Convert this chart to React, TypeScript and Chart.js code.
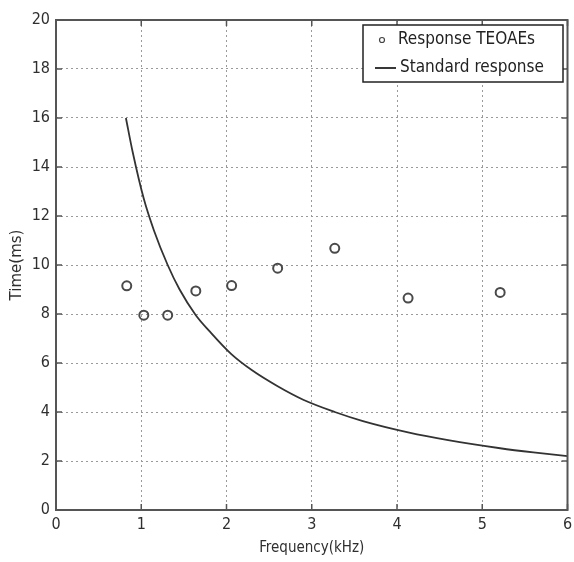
import { useEffect, useRef } from 'react';
import { Chart, registerables } from 'chart.js';

Chart.register(...registerables);

// Data
const seriesLabels = ['Response TEOAEs', 'Standard response'];
const teoaeFreq = [0.83, 1.03, 1.31, 1.64, 2.06, 2.6, 3.27, 4.13, 5.21];
const teoaeTime = [9.15, 7.95, 7.95, 8.94, 9.16, 9.87, 10.68, 8.65, 8.88];
const stdFreq = [0.82, 0.9, 1.03, 1.15, 1.31, 1.45, 1.64, 1.8, 2.06, 2.3, 2.6, 2.9, 3.27, 3.6, 4.13, 4.6, 5.21, 5.6, 6.0];
const stdTime = [16.0, 14.6, 12.7, 11.4, 10.0, 9.0, 7.95, 7.3, 6.35, 5.7, 5.05, 4.5, 4.0, 3.63, 3.17, 2.85, 2.52, 2.35, 2.2];
const xTicks = [0, 1, 2, 3, 4, 5, 6];
const yTicks = [0, 2, 4, 6, 8, 10, 12, 14, 16, 18, 20];
const xTitle = 'Frequency(kHz)';
const yTitle = 'Time(ms)';

const FONT_H = "'DejaVu Sans Condensed', 'Liberation Sans', sans-serif";
const FONT_V = "'DejaVu Sans', 'Liberation Sans', sans-serif";
const AXIS_COLOR = '#555';
const TEXT_COLOR = '#2f2f2f';

const framePlugin = {
  id: 'frame',
  afterDatasetsDraw(chart: any) {
    const { ctx, chartArea: a, scales } = chart;
    ctx.save();
    // inward ticks
    ctx.strokeStyle = AXIS_COLOR;
    ctx.lineWidth = 1.5;
    const tl = 6;
    xTicks.forEach((v) => {
      const x = scales.x.getPixelForValue(v);
      ctx.beginPath();
      ctx.moveTo(x, a.bottom);
      ctx.lineTo(x, a.bottom - tl);
      ctx.moveTo(x, a.top);
      ctx.lineTo(x, a.top + tl);
      ctx.stroke();
    });
    yTicks.forEach((v) => {
      const y = scales.y.getPixelForValue(v);
      ctx.beginPath();
      ctx.moveTo(a.left, y);
      ctx.lineTo(a.left + tl, y);
      ctx.moveTo(a.right, y);
      ctx.lineTo(a.right - tl, y);
      ctx.stroke();
    });
    // box
    ctx.lineWidth = 2;
    ctx.strokeRect(a.left, a.top, a.right - a.left, a.bottom - a.top);

    // legend
    const bx = a.left + 307;
    const by = a.top + 5;
    const bw = 200;
    const bh = 57;
    ctx.fillStyle = '#fff';
    ctx.fillRect(bx, by, bw, bh);
    ctx.strokeStyle = '#222';
    ctx.lineWidth = 1.5;
    ctx.strokeRect(bx, by, bw, bh);
    ctx.font = `17px ${FONT_H}`;
    ctx.fillStyle = '#222';
    ctx.textBaseline = 'middle';
    ctx.textAlign = 'left';
    const r1 = by + 15;
    const r2 = by + 43;
    // marker
    ctx.beginPath();
    ctx.arc(bx + 19, r1, 2.5, 0, Math.PI * 2);
    ctx.strokeStyle = '#444';
    ctx.lineWidth = 1.2;
    ctx.stroke();
    ctx.fillText(chart.data.datasets[0].label, bx + 35, r1);
    // line
    ctx.beginPath();
    ctx.moveTo(bx + 12, r2);
    ctx.lineTo(bx + 33, r2);
    ctx.strokeStyle = '#222';
    ctx.lineWidth = 1.8;
    ctx.stroke();
    ctx.fillText(chart.data.datasets[1].label, bx + 37, r2);
    ctx.restore();
  },
};

export default function App() {
  const ref = useRef<HTMLCanvasElement | null>(null);

  useEffect(() => {
    if (!ref.current) return;
    const chart = new Chart(ref.current, {
      type: 'scatter',
      data: {
        datasets: [
          {
            label: seriesLabels[0],
            data: teoaeFreq.map((x, i) => ({ x, y: teoaeTime[i] })),
            pointRadius: 4.5,
            pointBorderWidth: 2,
            pointBorderColor: '#4a4a4a',
            pointBackgroundColor: 'rgba(255,255,255,0)',
            showLine: false,
          },
          {
            label: seriesLabels[1],
            data: stdFreq.map((x, i) => ({ x, y: stdTime[i] })),
            showLine: true,
            pointRadius: 0,
            borderColor: '#333',
            borderWidth: 1.8,
            cubicInterpolationMode: 'monotone',
          },
        ],
      },
      options: {
        animation: false,
        responsive: false,
        layout: { padding: { top: 20, right: 2, left: 0, bottom: 0 } },
        plugins: {
          legend: { display: false },
          tooltip: { enabled: false },
        },
        scales: {
          x: {
            type: 'linear',
            min: 0,
            max: 6,
            afterBuildTicks: (s: any) => {
              s.ticks = xTicks.map((v) => ({ value: v }));
            },
            ticks: {
              padding: 5,
              color: TEXT_COLOR,
              font: { family: FONT_H, size: 16 },
              maxRotation: 0,
            },
            grid: { color: '#9a9a9a', lineWidth: 1, drawTicks: false },
            border: { display: false, dash: [2, 3] },
            title: {
              display: true,
              text: xTitle,
              color: TEXT_COLOR,
              font: { family: FONT_H, size: 15 },
              padding: { top: 0, bottom: 5 },
            },
            afterFit: (s: any) => {
              s.height = 52;
              s.paddingLeft = 0;
              s.paddingRight = 0;
            },
          },
          y: {
            type: 'linear',
            min: 0,
            max: 20,
            afterBuildTicks: (s: any) => {
              s.ticks = yTicks.map((v) => ({ value: v }));
            },
            ticks: {
              padding: 6,
              color: TEXT_COLOR,
              font: { family: FONT_H, size: 16 },
            },
            grid: { color: '#9a9a9a', lineWidth: 1, drawTicks: false },
            border: { display: false, dash: [2, 3] },
            title: {
              display: true,
              text: yTitle,
              color: TEXT_COLOR,
              font: { family: FONT_V, size: 15 },
              padding: { top: 8, bottom: 0 },
            },
            afterFit: (s: any) => {
              s.width = 56;
              s.paddingTop = 0;
              s.paddingBottom = 0;
            },
          },
        },
      },
      plugins: [framePlugin],
    });
    return () => chart.destroy();
  }, []);

  return (
    <div style={{ position: 'absolute', left: 0, top: 0, width: 574, height: 562, background: '#fff' }}>
      <canvas ref={ref} width={574} height={562} />
    </div>
  );
}
